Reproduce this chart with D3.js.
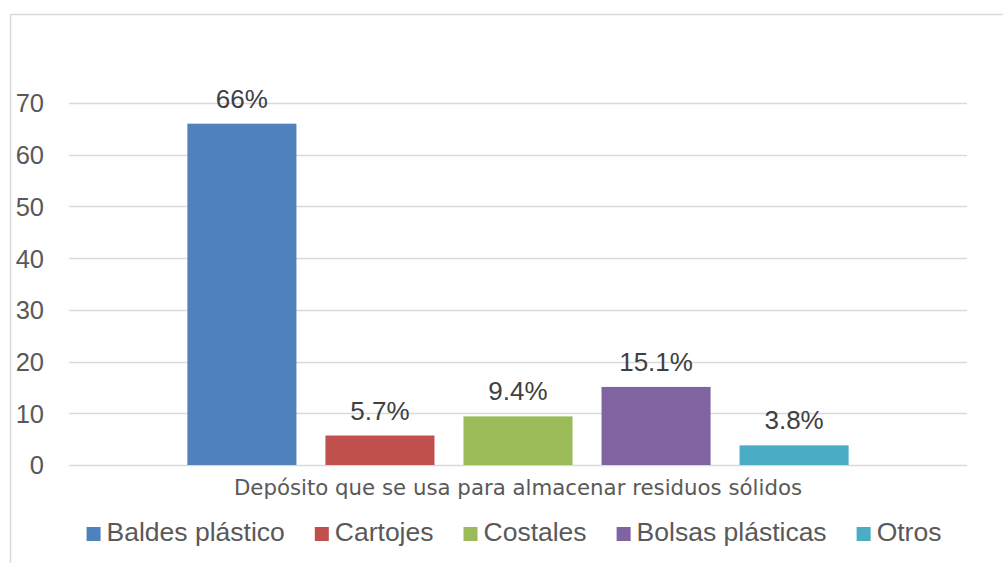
<!DOCTYPE html>
<html>
<head>
<meta charset="utf-8">
<script src="https://cdn.jsdelivr.net/npm/d3@7"></script>
<style>
  html, body { margin: 0; padding: 0; background: #fff; }
  svg { display: block; }
</style>
</head>
<body>
<svg id="chart" width="1003" height="563"></svg>
<script>
// Storage containers used for solid waste (percent of households)
const category = "Depósito que se usa para almacenar residuos sólidos";
const seriesNames = ["Baldes plástico", "Cartojes", "Costales", "Bolsas plásticas", "Otros"];
const seriesValues = [66, 5.7, 9.4, 15.1, 3.8];
const valueLabels = ["66%", "5.7%", "9.4%", "15.1%", "3.8%"];
const seriesColors = ["#4F81BD", "#C0504D", "#9BBB59", "#8064A2", "#4BACC6"];
const yTicks = [0, 10, 20, 30, 40, 50, 60, 70];

const svg = d3.select("#chart");

// chart frame (runs off the right and bottom edges)
svg.append("rect")
  .attr("x", 10.5).attr("y", 14.5)
  .attr("width", 1010).attr("height", 600)
  .attr("fill", "none").attr("stroke", "#d9d9d9").attr("stroke-width", 1.5);

const plot = { left: 69, right: 967, top: 103, bottom: 465 };

const y = d3.scaleLinear().domain([0, 70]).range([plot.bottom, plot.top]);
const xCat = d3.scaleBand().domain([category]).range([plot.left, plot.right]).paddingInner(0).paddingOuter(0.179);
const xSeries = d3.scaleBand().domain(seriesNames).range([0, xCat.bandwidth()]).paddingInner(0.21);

// gridlines
svg.append("g")
  .selectAll("line")
  .data(yTicks)
  .join("line")
  .attr("x1", plot.left).attr("x2", plot.right)
  .attr("y1", d => Math.round(y(d)) + 0.5).attr("y2", d => Math.round(y(d)) + 0.5)
  .attr("stroke", "#d9d9d9").attr("stroke-width", 1.5);

// y axis labels
const yAxis = d3.axisLeft(y).tickValues(yTicks).tickSize(0).tickPadding(0);
const yg = svg.append("g").attr("transform", `translate(${44},0)`).call(yAxis);
yg.select(".domain").remove();
yg.selectAll("text")
  .attr("font-family", "'Liberation Sans', Arial, sans-serif")
  .attr("font-size", 25.5)
  .attr("fill", "#595959")
  .attr("dy", "0.35em");

// bars
const group = svg.append("g").attr("transform", `translate(${xCat(category)},0)`);
group.selectAll("rect")
  .data(seriesNames)
  .join("rect")
  .attr("x", d => xSeries(d))
  .attr("width", xSeries.bandwidth())
  .attr("y", (d, i) => y(seriesValues[i]))
  .attr("height", (d, i) => y(0) - y(seriesValues[i]))
  .attr("fill", (d, i) => seriesColors[i]);

// value labels
group.selectAll("text.val")
  .data(seriesNames)
  .join("text")
  .attr("class", "val")
  .attr("x", d => xSeries(d) + xSeries.bandwidth() / 2)
  .attr("y", (d, i) => y(seriesValues[i]) - 16)
  .attr("text-anchor", "middle")
  .attr("font-family", "'Liberation Sans', Arial, sans-serif")
  .attr("font-size", 26)
  .attr("fill", "#404040")
  .text((d, i) => valueLabels[i]);

// category label
svg.append("text")
  .attr("x", xCat(category) + xCat.bandwidth() / 2)
  .attr("y", 495)
  .attr("text-anchor", "middle")
  .attr("font-family", "'DejaVu Sans', sans-serif")
  .attr("font-size", 21.3)
  .attr("fill", "#595959")
  .text(category);

// legend
const legendFont = "'Liberation Sans', Arial, sans-serif";
const legend = svg.append("g");
const items = legend.selectAll("g")
  .data(seriesNames)
  .join("g");
items.append("rect")
  .attr("width", 14).attr("height", 14)
  .attr("y", 527)
  .attr("fill", (d, i) => seriesColors[i]);
items.append("text")
  .attr("x", 20)
  .attr("y", 541)
  .attr("font-family", legendFont)
  .attr("font-size", 26.5)
  .attr("fill", "#595959")
  .text(d => d);
// lay out entries horizontally, centred
const gap = 30;
let widths = [];
items.each(function () { widths.push(this.getBBox().width); });
const total = d3.sum(widths) + gap * (widths.length - 1);
let cx = 514 - total / 2;
items.attr("transform", (d, i) => {
  const t = `translate(${cx},0)`;
  cx += widths[i] + gap;
  return t;
});
</script>
</body>
</html>
